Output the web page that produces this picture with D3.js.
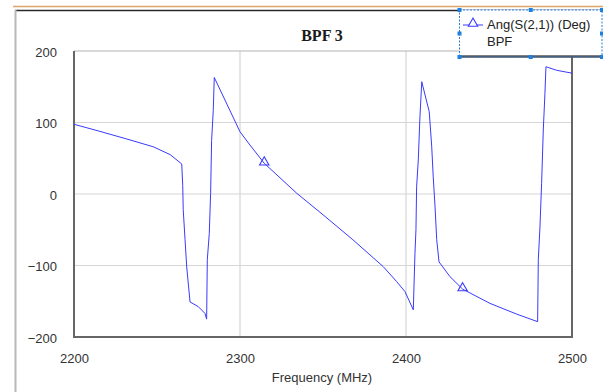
<!DOCTYPE html>
<html>
<head>
<meta charset="utf-8">
<script src="https://cdn.jsdelivr.net/npm/d3@7"></script>
<style>
  body { margin: 0; background: #fff; }
  svg { display: block; }
</style>
</head>
<body>
<div id="chart"></div>
<script>
// chart data
const freqMHz = [2200, 2215, 2231.7, 2247.8, 2258, 2264.9, 2265.5, 2265.8, 2266.9, 2267.9, 2269.9,
  2274.9, 2278.9, 2279.9, 2280.3, 2281.5, 2282.3, 2282.9, 2283.9, 2284.5, 2300, 2306, 2314.6,
  2334.2, 2350, 2368, 2386.3, 2394.4, 2399.4, 2404.4, 2405.4, 2406, 2406.4, 2407.4, 2408.4,
  2409.5, 2414, 2415.5, 2416.4, 2417.5, 2418.5, 2419.9, 2426.5, 2434.1, 2450.6, 2466.7,
  2479.3, 2479.7, 2480.7, 2481.7, 2482.7, 2483.7, 2484.3, 2490.8, 2500];
const angDeg = [97.5, 88, 77, 66, 55, 42, 12, -22, -64, -102, -151,
  -157.6, -167, -175, -92, -55, 1, 75, 117, 163, 87, 68.5, 43,
  1, -29, -64, -101.6, -122.6, -136.6, -162, -83, -50, 10, 47.6, 108,
  157, 115, 66, 24, -18, -64, -95, -115.6, -133, -153, -168,
  -178.6, -92, -46, 15, 89.5, 141, 178, 173, 169];
const markerFreqs = [2314.6, 2434.1];
const xTicks = [2200, 2300, 2400, 2500];
const yTicks = [-200, -100, 0, 100, 200];
const chartTitle = "BPF 3";
const xTitle = "Frequency (MHz)";
const legendLines = ["Ang(S(2,1)) (Deg)", "BPF"];

const W = 603, H = 392;
const plot = { left: 74, right: 572, top: 51, bottom: 337 };
const lineColor = "#3a3aff";

const svg = d3.select("#chart").append("svg")
  .attr("width", W)
  .attr("height", H);

// outer window frame
svg.append("line")
  .attr("x1", 13).attr("x2", W).attr("y1", 6.5).attr("y2", 6.5)
  .attr("stroke", "#dca56a").attr("stroke-width", 1.5);
svg.append("line")
  .attr("x1", 15).attr("x2", W).attr("y1", 10.5).attr("y2", 10.5)
  .attr("stroke", "#2a2a2a").attr("stroke-width", 1.5);
svg.append("line")
  .attr("x1", 15.5).attr("x2", 15.5).attr("y1", 10).attr("y2", H)
  .attr("stroke", "#b8b8b8").attr("stroke-width", 2);

const x = d3.scaleLinear().domain([2200, 2500]).range([plot.left, plot.right]);
const y = d3.scaleLinear().domain([-200, 200]).range([plot.bottom, plot.top]);

// grid
svg.append("g")
  .selectAll("line.vgrid")
  .data(xTicks.slice(1, -1))
  .enter()
  .append("line")
  .attr("x1", d => x(d)).attr("x2", d => x(d))
  .attr("y1", plot.top).attr("y2", plot.bottom)
  .attr("stroke", "#d6d6d6").attr("stroke-width", 1.2);
svg.append("g")
  .selectAll("line.hgrid")
  .data(yTicks.slice(1, -1))
  .enter()
  .append("line")
  .attr("x1", plot.left).attr("x2", plot.right)
  .attr("y1", d => y(d)).attr("y2", d => y(d))
  .attr("stroke", "#d6d6d6").attr("stroke-width", 1.2);

// plot border: light top, dark left/bottom/right
svg.append("line")
  .attr("x1", plot.left).attr("x2", plot.right).attr("y1", plot.top).attr("y2", plot.top)
  .attr("stroke", "#b4b4b4").attr("stroke-width", 1.2);
svg.append("path")
  .attr("d", `M${plot.left},${plot.top}V${plot.bottom}H${plot.right}V${plot.top}`)
  .attr("fill", "none")
  .attr("stroke", "#666").attr("stroke-width", 2);

// axes (labels only)
const yAxis = svg.append("g")
  .attr("transform", `translate(${plot.left},1)`)
  .call(d3.axisLeft(y).tickValues(yTicks).tickSize(0).tickPadding(17).tickFormat(d3.format("d")));
const xAxis = svg.append("g")
  .attr("transform", `translate(0,${plot.bottom})`)
  .call(d3.axisBottom(x).tickValues(xTicks).tickSize(0).tickPadding(17).tickFormat(d3.format("d")));
[yAxis, xAxis].forEach(g => {
  g.select(".domain").remove();
  g.selectAll("text")
    .attr("fill", "#333")
    .style("font-family", "Arial, 'Liberation Sans', sans-serif")
    .style("font-size", "13px");
});

// titles
svg.append("text")
  .attr("x", 322).attr("y", 41)
  .attr("text-anchor", "middle")
  .style("font-family", "'Times New Roman', 'Liberation Serif', serif")
  .style("font-weight", "bold")
  .style("font-size", "16px")
  .attr("fill", "#1a1a1a")
  .text(chartTitle);
svg.append("text")
  .attr("x", 322).attr("y", 382)
  .attr("text-anchor", "middle")
  .style("font-family", "Arial, 'Liberation Sans', sans-serif")
  .style("font-size", "13px")
  .attr("fill", "#333")
  .text(xTitle);

// trace
const points = freqMHz.map((f, i) => [f, angDeg[i]]);
const line = d3.line().x(d => x(d[0])).y(d => y(d[1]));
svg.append("path")
  .datum(points)
  .attr("d", line)
  .attr("fill", "none")
  .attr("stroke", lineColor)
  .attr("stroke-width", 1)
  .attr("stroke-linejoin", "round");

const tri = d3.symbol().type(d3.symbolTriangle).size(38);
svg.selectAll("path.marker")
  .data(markerFreqs)
  .enter()
  .append("path")
  .attr("class", "marker")
  .attr("d", tri)
  .attr("transform", f => `translate(${x(f)},${y(angDeg[freqMHz.indexOf(f)]) - 1})`)
  .attr("fill", "none")
  .attr("stroke", lineColor)
  .attr("stroke-width", 1.1);

// legend box (selected, with handles)
const lg = { x0: 459.5, x1: 602, y0: 10, y1: 57 };
svg.append("rect")
  .attr("x", lg.x0).attr("y", lg.y0)
  .attr("width", lg.x1 - lg.x0).attr("height", lg.y1 - lg.y0)
  .attr("fill", "#fff");
svg.append("line")
  .attr("x1", lg.x0).attr("x2", lg.x1).attr("y1", lg.y1 - 0.5).attr("y2", lg.y1 - 0.5)
  .attr("stroke", "#555").attr("stroke-width", 2.5);
svg.append("rect")
  .attr("x", lg.x0).attr("y", lg.y0)
  .attr("width", lg.x1 - lg.x0).attr("height", lg.y1 - lg.y0)
  .attr("fill", "none")
  .attr("stroke", "#2a7bd6")
  .attr("stroke-width", 1)
  .attr("stroke-dasharray", "2,1.5");
const handles = [];
[lg.x0, (lg.x0 + lg.x1) / 2, lg.x1].forEach(hx => {
  [lg.y0, (lg.y0 + lg.y1) / 2, lg.y1].forEach(hy => {
    if (!(hx === (lg.x0 + lg.x1) / 2 && hy === (lg.y0 + lg.y1) / 2)) handles.push([hx, hy]);
  });
});
svg.selectAll("rect.handle")
  .data(handles)
  .enter()
  .append("rect")
  .attr("class", "handle")
  .attr("x", d => d[0] - 2).attr("y", d => d[1] - 2)
  .attr("width", 4).attr("height", 4)
  .attr("fill", "#1e80e0");

svg.append("line")
  .attr("x1", 463).attr("x2", 483).attr("y1", 25).attr("y2", 25)
  .attr("stroke", lineColor).attr("stroke-width", 1);
svg.append("path")
  .attr("d", tri)
  .attr("transform", "translate(473,23.5)")
  .attr("fill", "#fff")
  .attr("stroke", lineColor)
  .attr("stroke-width", 1.1);
svg.selectAll("text.legend")
  .data(legendLines)
  .enter()
  .append("text")
  .attr("class", "legend")
  .attr("x", 487).attr("y", (d, i) => 29 + i * 17)
  .style("font-family", "Arial, 'Liberation Sans', sans-serif")
  .style("font-size", "13px")
  .attr("fill", "#222")
  .text(d => d);
</script>
</body>
</html>
